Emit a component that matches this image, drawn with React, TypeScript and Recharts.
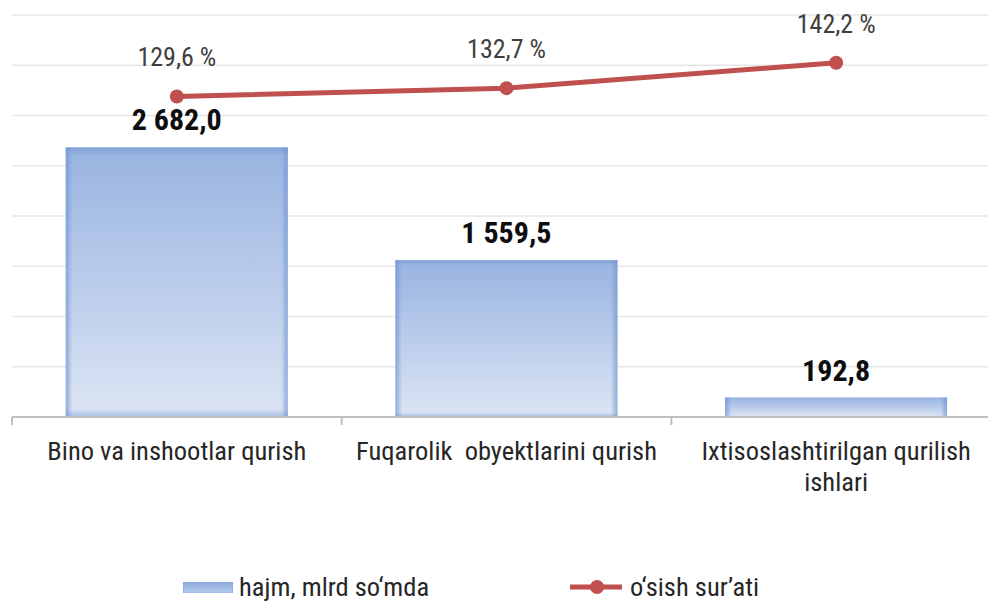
import React from "react";
import {
  ComposedChart,
  Bar,
  Line,
  XAxis,
  YAxis,
  CartesianGrid,
  LabelList,
  Legend,
} from "recharts";

// ---- data ----
const categories = [
  "Bino va inshootlar qurish",
  "Fuqarolik\u00a0 obyektlarini qurish",
  "Ixtisoslashtirilgan qurilish\nishlari",
];
const volumes = [2682.0, 1559.5, 192.8];
const growthRates = [129.6, 132.7, 142.2];
const volumeTicks = [0, 500, 1000, 1500, 2000, 2500, 3000, 3500, 4000];
const growthDomain = [10, 160];
const volumeName = "hajm, mlrd so\u2018mda";
const growthName = "o\u2018sish sur\u2019ati";

const data = categories.map((name, i) => ({
  name,
  volume: volumes[i],
  growth: growthRates[i],
}));

// ---- styles ----
const FONT = "'Roboto Condensed', Roboto, sans-serif";
const TEXT_COLOR = "#262626";
const RED = "#c0504d";
const AXIS_COLOR = "#bfbfbf";
const TICK_MARGIN = 24;
const CAT_FONT = 26.5;
const CAT_LINE = 31;

const fmtVolume = (v: any) => {
  const n = Number(v);
  const [int, dec] = n.toFixed(1).split(".");
  return int.replace(/\B(?=(\d{3})+(?!\d))/g, " ") + "," + dec;
};
const fmtGrowth = (v: any) => Number(v).toFixed(1).replace(".", ",") + " %";

const CategoryTick = (props: any) => {
  const { x, y, payload } = props;
  const half = payload && payload.offset ? payload.offset : 0;
  const axisY = y - TICK_MARGIN;
  const lines = String(payload.value).split("\n");
  return (
    <g>
      <line
        x1={x - half}
        x2={x - half}
        y1={axisY}
        y2={axisY + 8}
        stroke={AXIS_COLOR}
        strokeWidth={2}
      />
      <text
        x={x}
        y={y}
        textAnchor="middle"
        fill={TEXT_COLOR}
        style={{ fontFamily: FONT, fontSize: CAT_FONT }}
      >
        {lines.map((ln, i) => (
          <tspan key={i} x={x} dy={i === 0 ? "0.71em" : CAT_LINE}>
            {ln}
          </tspan>
        ))}
      </text>
    </g>
  );
};

const BarShape = (props: any) => {
  const { x, y, width, height } = props;
  if (!height || height <= 0) return null;
  return (
    <g>
      <rect x={x} y={y} width={width} height={height} fill="url(#barFill)" />
      <rect x={x} y={y} width={width} height={height} fill="url(#barEdgeH)" />
      <rect x={x} y={y} width={width} height={height} fill="url(#barEdgeV)" />
    </g>
  );
};

const renderLegend = () => (
  <div
    style={{
      display: "flex",
      alignItems: "center",
      height: 28,
      paddingLeft: 183,
      fontFamily: FONT,
      fontSize: 26.5,
      color: TEXT_COLOR,
      lineHeight: "28px",
    }}
  >
    <div style={{ display: "flex", alignItems: "center", width: 387 }}>
      <div
        style={{
          width: 50,
          height: 11,
          marginRight: 6,
          background: "linear-gradient(#8eabdd, #b7cbec)",
          boxShadow: "inset 0 0 2px #6f93d0",
        }}
      />
      <span>{volumeName}</span>
    </div>
    <div style={{ display: "flex", alignItems: "center" }}>
      <svg width={52} height={16} style={{ marginRight: 8 }}>
        <line x1={0} x2={52} y1={8} y2={8} stroke={RED} strokeWidth={5} />
        <circle cx={27} cy={8} r={7} fill={RED} />
      </svg>
      <span>{growthName}</span>
    </div>
  </div>
);

export default function App() {
  return (
    <div
      style={{
        position: "absolute",
        left: 0,
        top: 0,
        width: 988,
        height: 601,
        overflow: "hidden",
        background: "#ffffff",
      }}
    >
      <ComposedChart
        width={1001}
        height={601}
        data={data}
        margin={{ top: 15, right: 0, left: 12, bottom: 0 }}
        barCategoryGap="16.3%"
      >
        <defs>
          <linearGradient id="barFill" x1="0" y1="0" x2="0" y2="1">
            <stop offset="0%" stopColor="#98b3e1" />
            <stop offset="100%" stopColor="#dce5f4" />
          </linearGradient>
          <linearGradient id="barEdgeH" x1="0" y1="0" x2="1" y2="0">
            <stop offset="0%" stopColor="#6f93d0" stopOpacity={0.7} />
            <stop offset="3%" stopColor="#6f93d0" stopOpacity={0} />
            <stop offset="97%" stopColor="#6f93d0" stopOpacity={0} />
            <stop offset="100%" stopColor="#6f93d0" stopOpacity={0.7} />
          </linearGradient>
          <linearGradient id="barEdgeV" x1="0" y1="0" x2="0" y2="1">
            <stop offset="0%" stopColor="#6f93d0" stopOpacity={0.6} />
            <stop offset="3%" stopColor="#6f93d0" stopOpacity={0} />
            <stop offset="97%" stopColor="#6f93d0" stopOpacity={0} />
            <stop offset="100%" stopColor="#6f93d0" stopOpacity={0.5} />
          </linearGradient>
        </defs>
        <CartesianGrid
          yAxisId="v"
          vertical={false}
          stroke="#e6e6e6"
          strokeWidth={1.5}
        />
        <XAxis
          dataKey="name"
          interval={0}
          tickLine={false}
          tickSize={0}
          tickMargin={TICK_MARGIN}
          axisLine={{ stroke: AXIS_COLOR, strokeWidth: 2 }}
          height={156}
          tick={<CategoryTick />}
        />
        <YAxis
          yAxisId="v"
          hide
          domain={[volumeTicks[0], volumeTicks[volumeTicks.length - 1]]}
          ticks={volumeTicks}
        />
        <YAxis
          yAxisId="g"
          orientation="right"
          hide
          domain={growthDomain}
          allowDataOverflow
        />
        <Legend verticalAlign="bottom" height={28} content={renderLegend} wrapperStyle={{ left: 0, width: 988 }} />
        <Bar
          yAxisId="v"
          dataKey="volume"
          name={volumeName}
          shape={<BarShape />}
          isAnimationActive={false}
        >
          <LabelList
            dataKey="volume"
            position="top"
            offset={17}
            formatter={fmtVolume}
            style={{ fontFamily: FONT, fontSize: 30, fontWeight: 700 }}
            fill="#0d0d0d"
          />
        </Bar>
        <Line
          yAxisId="g"
          dataKey="growth"
          name={growthName}
          stroke={RED}
          strokeWidth={5}
          dot={{ r: 7, fill: RED, stroke: RED, strokeWidth: 0 }}
          isAnimationActive={false}
        >
          <LabelList
            dataKey="growth"
            position="top"
            offset={30}
            formatter={fmtGrowth}
            style={{ fontFamily: FONT, fontSize: 26 }}
            fill="#404040"
          />
        </Line>
      </ComposedChart>
    </div>
  );
}
